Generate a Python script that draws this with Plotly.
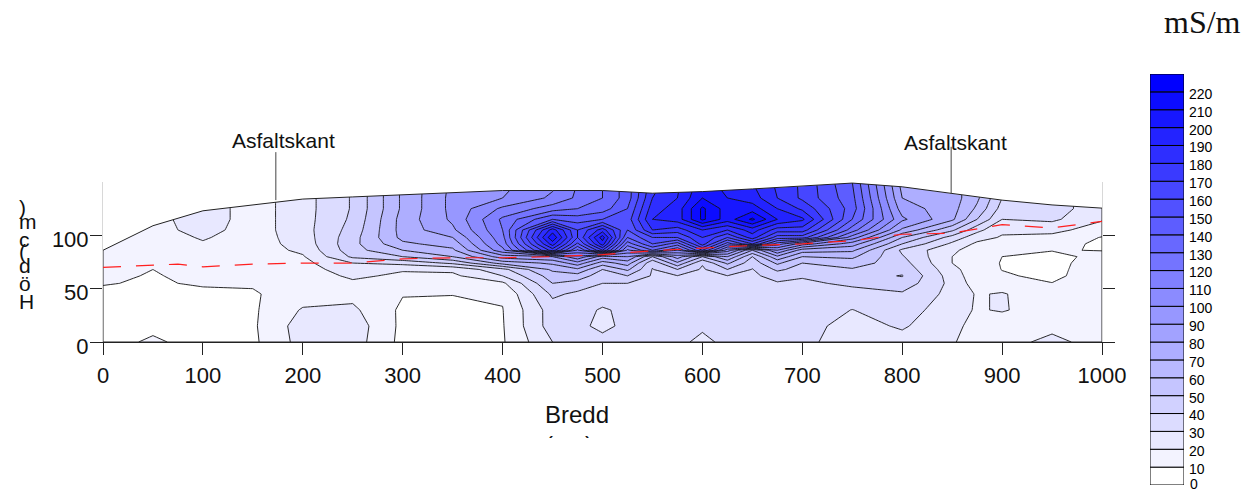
import numpy as np
import plotly.graph_objects as go

x_grid = [0, 50, 100, 150, 200, 250, 300, 350, 400, 450, 475, 500, 525, 550, 575, 600, 625, 650, 675, 700, 750, 800, 850, 875, 900, 950, 1000]
y_grid = [0, 15, 30, 45, 55, 62, 68, 74, 80, 86, 92, 98, 105, 115, 125, 135, 150]

z000 = [5, 6, 7, 8, 10.5, 12, 13, 13, 14, 14, 14, 14, 14, 14, 14, 14, 14]
z050 = [12, 7, 7, 8, 9, 9.3, 10, 12, 13, 14, 15, 15, 16, 16, 16, 16, 16]
z100 = [5, 5, 6, 8, 11, 12.5, 14, 15, 16, 17, 19, 21, 24, 26, 26, 26, 26]
z150 = [8, 8.5, 8.5, 9, 11, 13, 14, 15, 15, 15, 15, 15, 15, 15, 15, 15, 15]
z200 = [24, 25, 21, 15, 13, 14, 15, 17, 19, 22, 24, 25, 26, 26, 26, 26, 26]
z250 = [25, 26, 22, 17, 18, 22, 26, 30, 42, 46, 47, 46, 44, 42, 41, 41, 41]
z300 = [7, 7.5, 8, 10.5, 15, 18, 21, 33, 50, 60, 68, 73, 74, 74, 72, 72, 72]
z350 = [6, 6, 7, 10.3, 14, 18, 22, 42, 60, 68, 74, 80, 88, 92, 93, 93, 92]
z400 = [9, 9.3, 9.7, 11, 18, 30, 37, 64, 85, 107, 114, 117, 120, 122, 112, 100, 97]
z450 = [30, 35, 35, 42, 50, 55, 62, 72, 90, 175, 195, 208, 195, 150, 125, 112, 107]
z475 = [33, 33, 35, 38, 46, 56, 68, 86, 108, 128, 148, 160, 160, 145, 130, 122, 120]
z500 = [34, 27, 28.5, 37, 40, 44, 50, 65, 85, 170, 195, 205, 185, 150, 135, 130, 130]
z525 = [34, 33, 33, 36, 40, 50, 62, 75, 90, 108, 125, 140, 150, 155, 150, 145, 145]
z550 = [34, 35, 36, 37, 38, 39, 39.5, 42, 60, 130, 150, 160, 180, 190, 185, 180, 175]
z575 = [33, 34, 35, 36, 38, 39.7, 50, 68, 85, 110, 135, 160, 175, 195, 195, 190, 188]
z600 = [27, 32, 35, 36, 37, 38, 38.5, 41, 60, 150, 175, 180, 190, 222, 222, 210, 205]
z625 = [33, 34, 35, 36, 38, 39.8, 50, 62, 80, 105, 135, 160, 180, 205, 205, 200, 195]
z650 = [33, 34, 35, 36, 37, 38, 39.5, 44, 50, 70, 160, 185, 195, 222, 205, 195, 190]
z675 = [33, 34, 35, 36, 39, 44, 52, 62, 78, 100, 125, 155, 175, 200, 190, 180, 178]
z700 = [32, 33, 35, 36, 38, 41, 46, 50, 60, 75, 105, 155, 175, 192, 178, 168, 168]
z750 = [26, 27, 29.8, 36, 42, 46, 49, 55, 62, 72, 85, 105, 125, 140, 145, 143, 140]
z800 = [27, 31, 35, 38.5, 46, 50.5, 47, 44, 41, 38, 50, 60, 78, 92, 85, 80, 76]
z850 = [21, 24, 24, 27, 27, 25, 23, 20, 20, 22, 28, 36, 52, 72, 74, 75, 75]
z875 = [15, 15, 19, 19, 15, 14, 14, 14, 14, 15, 18, 24, 33, 50, 58, 62, 62]
z900 = [13, 13, 21, 21, 14, 11, 9.8, 9.5, 10, 12, 15, 19, 22, 30, 36, 40, 40]
z950 = [25, 15, 14, 12, 10.2, 8, 7.5, 7.5, 8, 10.3, 13, 17, 23, 32, 33, 33, 33]
z1000 = [12, 12, 12, 13, 14, 15, 15, 14, 12, 9.8, 8.5, 9.5, 15, 21, 26, 26, 26]
z_columns = [z000, z050, z100, z150, z200, z250, z300, z350, z400, z450, z475, z500, z525, z550,
             z575, z600, z625, z650, z675, z700, z750, z800, z850, z875, z900, z950, z1000]

surface_x = [0, 50, 100, 150, 200, 250, 300, 350, 400, 450, 500, 550, 600, 650, 700, 750, 800, 850, 900, 950, 1000]
surface_y = [86, 109, 123, 128.5, 134, 136, 138, 140, 142, 142, 142, 139.5, 141, 143.5, 146, 149, 145.5, 139, 133, 128.5, 125.5]

water_x = [0, 50, 75, 100, 150, 200, 250, 300, 350, 400, 450, 500, 550, 600, 650, 700, 750, 800, 850, 875, 900, 950, 1000]
water_y = [70, 72, 73, 70.5, 73, 74, 74, 78, 79, 79, 80, 82, 85.5, 88, 90.5, 92, 95, 101, 102, 106, 110, 107, 113]

label_text = "Asfaltskant"
label_px = [283, 955]
label_py = [140, 142]
leader_x = [173, 849]
leader_top = [178, 183]
leader_base = [133, 139]

levels_start, levels_end, levels_step = 0, 230, 10
band_count = 23
band_levels = list(range(0, 230, 10))
colorbar_ticks = list(range(10, 230, 10))
colorbar_zero = "0"
x_ticks = list(range(0, 1001, 100))
y_ticks = [0, 50, 100]
y_title_letters = ["H", "ö", "d", "(", "c", "m", ")"]
y_title_pos = [301, 283, 265, 251, 239, 221, 208]

# the browser page keeps an 8 px body margin round the figure
PAGE = 8
W, H = 1250 - PAGE, 492 - PAGE
FONT = "Liberation Sans"
INK = "#111111"


def paper_x(px):
    return (px - PAGE) / W


def paper_y(py):
    return 1 - (py - PAGE) / H


def value_py(v):
    return 342 - v * 160 / 150


def band_color(i):
    v = max(round(255 * (1 - i / (band_count - 1))), 0)
    return f"rgb({v},{v},255)"


span = levels_end - levels_start + levels_step
scale = [[0, "rgb(255,255,255)"]]
for i in range(band_count):
    scale.append([(10 * i + 10) / span, band_color(i)])
scale.append([1, "rgb(0,0,255)"])

z = np.array(z_columns, dtype=float).T

fig = go.Figure()
fig.add_trace(go.Contour(
    x=x_grid, y=y_grid, z=z,
    autocontour=False,
    contours=dict(start=levels_start, end=levels_end, size=levels_step, coloring="fill"),
    colorscale=scale,
    line=dict(color=INK, width=0.9, smoothing=0),
    hoverinfo="skip",
    showscale=False,
))
# white area above the ground surface
fig.add_trace(go.Scatter(
    x=surface_x + [1000, 0], y=surface_y + [150, 150],
    mode="none", fill="toself", fillcolor="white", hoverinfo="skip", showlegend=False,
))
# outline of the section
fig.add_trace(go.Scatter(
    x=surface_x + [1000, 1000, 0, 0], y=surface_y + [0, 0, 0, surface_y[0]],
    mode="lines", line=dict(color="#222222", width=1), hoverinfo="skip", showlegend=False,
))
fig.add_trace(go.Scatter(
    x=water_x, y=water_y, mode="lines",
    line=dict(color="#ff2020", width=1.2, dash="18px,15px"), hoverinfo="skip", showlegend=False,
))
# colour key, one stacked bar per band
fig.add_trace(go.Bar(
    x=[0] * band_count, y=[levels_step] * band_count, base=band_levels, width=1,
    marker=dict(color=[band_color(i) for i in range(band_count)], line=dict(color="black", width=1)),
    xaxis="x2", yaxis="y2", hoverinfo="skip", showlegend=False,
))

shapes = [
    dict(type="line", xref="x", yref="paper", x0=lx, x1=lx,
         y0=paper_y(value_py(t)), y1=paper_y(value_py(b)), line=dict(color="#444444", width=1))
    for lx, t, b in zip(leader_x, leader_top, leader_base)
]

annotations = [
    dict(x=paper_x(px), y=paper_y(py), xref="paper", yref="paper", xanchor="center", yanchor="middle",
         text=label_text, showarrow=False, font=dict(family=FONT, size=21, color=INK))
    for px, py in zip(label_px, label_py)
]
annotations.append(dict(x=paper_x(1202), y=paper_y(22), xref="paper", yref="paper", xanchor="center",
                        yanchor="middle", text="mS/m", showarrow=False,
                        font=dict(family="Liberation Serif", size=32, color=INK)))
annotations.append(dict(x=paper_x(1189), y=paper_y(484), xref="paper", yref="paper", xanchor="left",
                        yanchor="middle", xshift=-1, text=colorbar_zero, showarrow=False,
                        font=dict(family=FONT, size=14, color="black")))
for ch, py in zip(y_title_letters, y_title_pos):
    annotations.append(dict(x=paper_x(18), y=paper_y(py), xref="paper", yref="paper", xanchor="left",
                            yanchor="middle", xshift=-1, text=ch, showarrow=False,
                            font=dict(family=FONT, size=21, color=INK)))
annotations.append(dict(x=paper_x(577), y=paper_y(414), xref="paper", yref="paper", xanchor="center",
                        yanchor="middle", text="Bredd", showarrow=False, font=dict(family=FONT, size=24, color=INK)))
annotations.append(dict(x=paper_x(569), y=paper_y(429), xref="paper", yref="paper", xanchor="center",
                        yanchor="top", text="(cm)", height=7, valign="top", showarrow=False,
                        font=dict(family=FONT, size=24, color=INK)))

fig.update_layout(
    width=W, height=H, autosize=False,
    margin=dict(l=0, r=0, t=0, b=0, autoexpand=False),
    paper_bgcolor="white", plot_bgcolor="white",
    showlegend=False,
    barmode="overlay",
    annotations=annotations,
    shapes=shapes,
    xaxis=dict(domain=[paper_x(103), paper_x(1102)], range=[0, 1000], tickmode="array", tickvals=x_ticks,
               ticks="outside", ticklen=12, ticklabelstandoff=2,
               tickcolor="#222222", showgrid=False, zeroline=False, showline=True, linecolor="#222222",
               linewidth=1, tickfont=dict(family=FONT, size=22, color=INK)),
    yaxis=dict(domain=[paper_y(342), paper_y(182)], range=[0, 150], tickmode="array", tickvals=y_ticks,
               ticks="outside", ticklen=12,
               tickcolor="#222222", showgrid=False, zeroline=False, showline=True, linecolor="#d8d8d8",
               mirror="ticks", linewidth=1, ticklabelstandoff=-3, ticklabelshift=4,
               tickfont=dict(family=FONT, size=22, color=INK)),
    xaxis2=dict(domain=[paper_x(1150), paper_x(1184)], range=[-0.5, 0.5], anchor="y2", visible=False),
    yaxis2=dict(domain=[paper_y(485), paper_y(74)], range=[0, 230], anchor="x2", side="right",
                tickmode="array", tickvals=colorbar_ticks, ticks="", showgrid=False, zeroline=False,
                showline=False, ticklabelstandoff=4, ticklabelshift=2,
                tickfont=dict(family=FONT, size=14, color="black")),
)
fig.write_html("out.html")
